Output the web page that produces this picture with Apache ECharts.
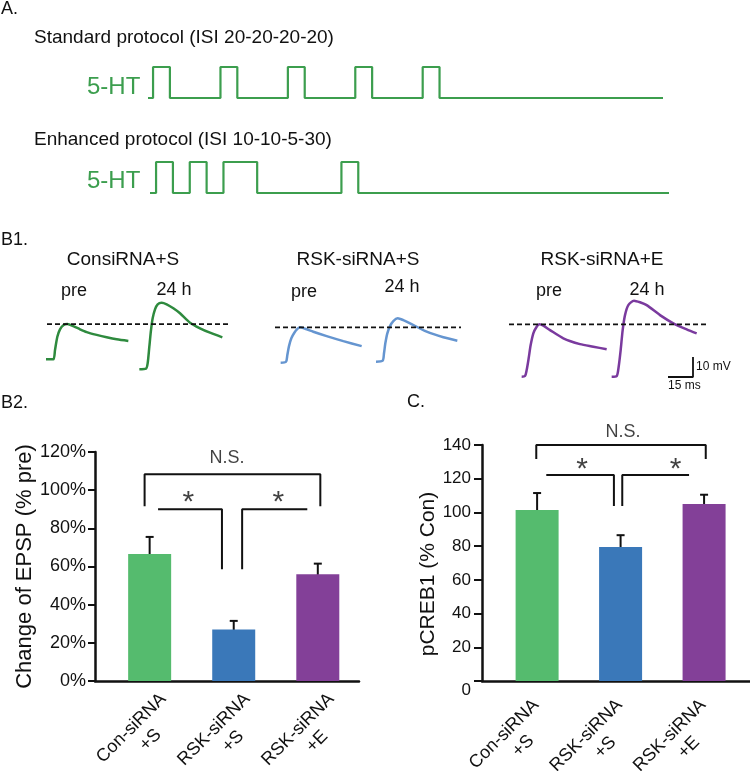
<!DOCTYPE html>
<html><head><meta charset="utf-8">
<script src="https://cdn.jsdelivr.net/npm/echarts@6/dist/echarts.min.js"></script>
<style>html,body{margin:0;padding:0;background:#fff}#c{width:750px;height:771px}</style>
</head><body><div id="c"></div>
<script>
// ---------------- DATA ----------------
// Panel A: 5-HT pulse onsets (min) and pulse length
const standardOnsets = [0, 20, 40, 60, 80];
const enhancedOnsets = [0, 10, 20, 25, 55];
const pulseDuration = 5;
const standardSpan = [-1.5, 151.3];
const enhancedSpan = [-1.8, 152.2];

// Panel B1: EPSP traces [ms, mV] relative to trace onset
const traceConPre  = [[0,0],[4.4,0],[5.4,4.6],[6.8,11.3],[8.4,15],[10.4,17],[12.8,17.6],[16.4,16.6],[20.4,15],[24.4,13.6],[30.4,12.2],[36.4,11],[42.4,10],[49.4,9.2]];
const traceCon24   = [[0,0],[4,0.3],[5,3],[6,11.3],[7,19.6],[8,25.5],[9.4,30],[11,32.5],[13.4,33.3],[16.4,32.5],[20.4,30.5],[24.4,28],[30.4,23.3],[36.4,20.5],[42.4,18.3],[49.8,16]];
const traceRskSPre = [[0,0],[3.2,0.5],[4,3.8],[5,8.3],[6.4,12.2],[8.2,15],[10.2,17],[11.6,17.7],[14.6,17],[19.6,15.5],[27.6,13.3],[37.6,10.8],[48.6,8.3]];
const traceRskS24  = [[0,0],[4,0.5],[4.8,4.2],[5.6,9.2],[6.8,14.2],[8.4,17.8],[10.4,20.3],[13,21.7],[16.4,20.8],[20.4,19.2],[30.4,15],[40.4,12.2],[48.8,10.5]];
const traceRskEPre = [[0,0],[2,0.3],[3,3.3],[4.2,9.2],[5.4,15.8],[7,21.7],[9,25],[10.6,26.2],[13,25.5],[17,23.3],[25,19.2],[35,16.3],[43,15],[51,13.7]];
const traceRskE24  = [[0,0],[3,0.3],[4.2,5],[5.4,13.3],[6.6,23.3],[8,30.8],[10,35.8],[13.4,38],[17,37.2],[21,35.8],[29,30.8],[37,26.7],[45,23.7],[51,21.7]];
const scaleBarMs = 15;
const scaleBarMv = 10;

// Panels B2 and C
const catLine1 = ['Con-siRNA', 'RSK-siRNA', 'RSK-siRNA'];
const catLine2 = ['+S', '+S', '+E'];
const epspMean = [66.5, 27, 56];
const epspErr  = [9, 4.5, 5.5];
const pcrebMean = [101.5, 79.5, 105];
const pcrebErr  = [10, 7, 5.5];

// significance brackets [x (category units), y (value units)]
const b2NsBracket = [[-0.06, 91.6], [-0.06, 108.4], [2.03, 108.4], [2.03, 91.6]];
const b2StarLeft  = [[0.10, 90], [0.86, 90], [0.86, 58.6]];
const b2StarRight = [[1.10, 58.6], [1.10, 90], [1.875, 90]];
const b2Marks = [[0.92, 116.7, 'N.S.'], [0.46, 93.5, '*'], [1.53, 93.5, '*']];
const cNsBracket = [[-0.01, 131.7], [-0.01, 140], [2.02, 140], [2.02, 131.7]];
const cStarLeft  = [[0.11, 122.2], [0.92, 122.2], [0.92, 103.8]];
const cStarRight = [[1.02, 103.8], [1.02, 122.2], [1.82, 122.2]];
const cMarks = [[1.03, 147.7, 'N.S.'], [0.54, 125.5, '*'], [1.66, 125.5, '*']];

// ---------------- STYLE / LAYOUT ----------------
const FONT = '"Liberation Sans", Arial, Helvetica, sans-serif';
const protoGreen = '#3c9e4e';
const barColors = ['#55bb6e', '#3a78b9', '#834098'];
const traceColors = ['#2e8a3e', '#6595d0', '#7a3a9e'];
const b1Offsets = { conPre:[27.6,15.35], con24:[83.6,10.35], rskSPre:[168.4,13.65], rskS24:[225.6,14.15], rskEPre:[313,6.65], rskE24:[367,6.65] };
const dashExtents = [[28.2,136.8],[165,276.6],[305.4,424.8]];
const scaleBarCorner = [415.8, 6.5];

function pulseSteps(onsets, dur, span) {
  const merged = [];
  onsets.forEach(o => {
    const last = merged[merged.length - 1];
    if (last && o <= last[1]) last[1] = Math.max(last[1], o + dur);
    else merged.push([o, o + dur]);
  });
  const pts = [[span[0], 0]];
  merged.forEach(([a, b]) => pts.push([a, 0], [a, 1], [b, 1], [b, 0]));
  pts.push([span[1], 0]);
  return pts;
}
const shift = (tr, off) => tr.map(([t, v]) => [t + off[0], v + off[1]]);
const peak = tr => Math.max(...tr.map(p => p[1]));

const G = { outerBoundsMode: 'none', containLabel: false };
const grids = [
  { left: 148, top: 67, width: 515, height: 31 },    // 0 standard protocol
  { left: 150, top: 162, width: 519, height: 31 },   // 1 enhanced protocol
  { left: 0, top: 290, width: 750, height: 100 },    // 2 B1 traces
  { left: 95, top: 452, width: 264, height: 229 },   // 3 B2
  { left: 129, top: 452, width: 252, height: 229 },  // 4 B2 labels
  { left: 482, top: 445, width: 268, height: 236 },  // 5 C
  { left: 502, top: 445, width: 250.5, height: 236 } // 6 C labels
].map(g => Object.assign({}, G, g));
const hidden = { show: false };
function hiddenVal(gi, min, max) {
  return { type: 'value', gridIndex: gi, min, max, show: false, splitLine: hidden, axisLine: { show: false, onZero: false } };
}
const labelRich = { l1: { fontSize: 18, fontFamily: FONT, color: '#111', lineHeight: 22 },
                    l2: { fontSize: 18, fontFamily: FONT, color: '#111', lineHeight: 22, align: 'center', padding: [0, 0, 0, 10] } };
function labelAxis(gi, margin) {
  return { type: 'category', gridIndex: gi, data: catLine1.map((a, i) => a + '|' + catLine2[i]),
    axisLine: { show: false, onZero: false }, axisTick: hidden, splitLine: hidden,
    axisLabel: { rotate: 45, margin, interval: 0, rich: labelRich, hideOverlap: false,
      formatter: v => { const [a, b] = v.split('|'); return '{l1|' + a + '}\n{l2|' + b + '}'; } } };
}
const axisLineStyle = { show: true, onZero: false, lineStyle: { color: '#111', width: 2.5 } };

const xAxis = [
  hiddenVal(0, standardSpan[0], standardSpan[1]),
  hiddenVal(1, enhancedSpan[0], enhancedSpan[1]),
  hiddenVal(2, 0, 450),
  { type: 'value', gridIndex: 3, min: -0.65, max: 2.49, axisLine: axisLineStyle,
    axisTick: hidden, axisLabel: hidden, splitLine: hidden },
  labelAxis(4, 23),
  { type: 'value', gridIndex: 5, min: -0.66, max: 2.55, axisLine: axisLineStyle,
    axisTick: hidden, axisLabel: hidden, splitLine: hidden },
  labelAxis(6, 29)
];
const yAxis = [
  hiddenVal(0, 0, 1),
  hiddenVal(1, 0, 1),
  hiddenVal(2, 0, 50),
  { type: 'value', gridIndex: 3, min: 0, max: 120, interval: 20,
    axisLine: axisLineStyle,
    axisTick: { show: true, length: 7, lineStyle: { color: '#111', width: 2 } },
    axisLabel: { formatter: '{value}%', fontSize: 18, color: '#111', margin: 9, fontFamily: FONT },
    splitLine: hidden,
    name: 'Change of EPSP (% pre)', nameLocation: 'middle', nameRotate: 90, nameGap: 56,
    nameTextStyle: { fontSize: 22, color: '#111', fontFamily: FONT } },
  hiddenVal(4, 0, 120),
  { type: 'value', gridIndex: 5, min: 0, max: 140, interval: 20,
    axisLine: axisLineStyle,
    axisTick: { show: true, length: 8, lineStyle: { color: '#111', width: 2 } },
    axisLabel: { fontSize: 17, color: '#111', margin: 11, fontFamily: FONT,
      formatter: v => v === 0 ? '{z|0}' : String(v),
      rich: { z: { fontSize: 17, color: '#111', fontFamily: FONT, padding: [18, 0, 0, 0] } } },
    splitLine: hidden,
    name: 'pCREB1 (% Con)', nameLocation: 'middle', nameRotate: 90, nameGap: 41,
    nameTextStyle: { fontSize: 21, color: '#111', fontFamily: FONT, padding: [0, 22, 0, 0] } },
  hiddenVal(6, 0, 140)
];

const series = [];
function line(xi, data, color, width, extra) {
  series.push(Object.assign({ type: 'line', xAxisIndex: xi, yAxisIndex: xi, data, showSymbol: false,
    symbol: 'none', clip: false, silent: true, animation: false,
    lineStyle: { color, width } }, extra || {}));
}
// Panel A
line(0, pulseSteps(standardOnsets, pulseDuration, standardSpan), protoGreen, 2.2);
line(1, pulseSteps(enhancedOnsets, pulseDuration, enhancedSpan), protoGreen, 2.2);
// Panel B1 traces
const smooth = { smooth: 0.25 };
line(2, shift(traceConPre, b1Offsets.conPre), traceColors[0], 2.5, smooth);
line(2, shift(traceCon24, b1Offsets.con24), traceColors[0], 2.5, smooth);
line(2, shift(traceRskSPre, b1Offsets.rskSPre), traceColors[1], 2.5, smooth);
line(2, shift(traceRskS24, b1Offsets.rskS24), traceColors[1], 2.5, smooth);
line(2, shift(traceRskEPre, b1Offsets.rskEPre), traceColors[2], 2.5, smooth);
line(2, shift(traceRskE24, b1Offsets.rskE24), traceColors[2], 2.5, smooth);
const preTraces = [[traceConPre, b1Offsets.conPre], [traceRskSPre, b1Offsets.rskSPre], [traceRskEPre, b1Offsets.rskEPre]];
preTraces.forEach(([tr, off], i) => {
  const lvl = peak(tr) + off[1];
  line(2, [[dashExtents[i][0], lvl], [dashExtents[i][1], lvl]], '#111', 1.8, { lineStyle: { color: '#111', width: 1.8, type: [5, 3] } });
});
line(2, [[scaleBarCorner[0] - scaleBarMs, scaleBarCorner[1]], scaleBarCorner, [scaleBarCorner[0], scaleBarCorner[1] + scaleBarMv]], '#111', 1.8);

// Bars + error bars + brackets
function barPanel(xi, mean, err, brackets, marks) {
  series.push({ type: 'bar', xAxisIndex: xi, yAxisIndex: xi, barWidth: 43, animation: false, silent: true,
    data: mean.map((v, i) => ({ value: [i, v], itemStyle: { color: barColors[i] } })) });
  series.push({ type: 'custom', xAxisIndex: xi, yAxisIndex: xi, animation: false, silent: true, clip: false,
    data: mean.map((v, i) => [i, v - err[i], v + err[i]]),
    renderItem: (params, api) => {
      const lo = api.coord([api.value(0), api.value(1)]);
      const hi = api.coord([api.value(0), api.value(2)]);
      const st = { stroke: '#111', lineWidth: 2 };
      return { type: 'group', children: [
        { type: 'line', shape: { x1: lo[0], y1: lo[1], x2: hi[0], y2: hi[1] }, style: st },
        { type: 'line', shape: { x1: lo[0] - 4, y1: lo[1], x2: lo[0] + 4, y2: lo[1] }, style: st },
        { type: 'line', shape: { x1: hi[0] - 4, y1: hi[1], x2: hi[0] + 4, y2: hi[1] }, style: st } ] };
    } });
  brackets.forEach(b => line(xi, b, '#111', 2));
  series.push({ type: 'scatter', xAxisIndex: xi, yAxisIndex: xi, symbolSize: 1, clip: false, silent: true, animation: false,
    itemStyle: { color: 'rgba(0,0,0,0)' },
    data: marks.map(m => ({ value: [m[0], m[1]], label: { show: true, position: 'inside', formatter: m[2],
      fontSize: m[2] === '*' ? 30 : 18, color: '#111', fontFamily: FONT } })) });
}
barPanel(3, epspMean, epspErr, [b2NsBracket, b2StarLeft, b2StarRight], b2Marks);
barPanel(5, pcrebMean, pcrebErr, [cNsBracket, cStarLeft, cStarRight], cMarks);

function txt(x, y, text, size, extra) {
  return Object.assign({ type: 'text', x, y, silent: true,
    style: Object.assign({ text, fontSize: size, fontFamily: FONT, fill: '#111', verticalAlign: 'middle', align: 'left' }, (extra || {})) });
}
const graphic = [
  txt(1, 9, 'A.', 18),
  txt(34, 38, 'Standard protocol (ISI 20-20-20-20)', 19),
  txt(87, 87, '5-HT', 24, { fill: protoGreen }),
  txt(34, 140, 'Enhanced protocol (ISI 10-10-5-30)', 19),
  txt(87, 181, '5-HT', 24, { fill: protoGreen }),
  txt(1, 240, 'B1.', 18),
  txt(123, 260, 'ConsiRNA+S', 19, { align: 'center' }),
  txt(358, 260, 'RSK-siRNA+S', 19, { align: 'center' }),
  txt(602, 260, 'RSK-siRNA+E', 19, { align: 'center' }),
  txt(74, 291, 'pre', 18, { align: 'center' }),
  txt(174, 290, '24 h', 18, { align: 'center' }),
  txt(304, 292, 'pre', 18, { align: 'center' }),
  txt(402, 287, '24 h', 18, { align: 'center' }),
  txt(549, 291, 'pre', 18, { align: 'center' }),
  txt(647, 290, '24 h', 18, { align: 'center' }),
  txt(696, 367, '10 mV', 12),
  txt(668, 386, '15 ms', 12),
  txt(1, 403, 'B2.', 18),
  txt(407, 402, 'C.', 18)
];

const chart = echarts.init(document.getElementById('c'), null, { renderer: 'canvas' });
chart.setOption({
  animation: false,
  backgroundColor: '#fff',
  textStyle: { fontFamily: FONT },
  grid: grids,
  xAxis, yAxis, series, graphic
});
</script></body></html>
